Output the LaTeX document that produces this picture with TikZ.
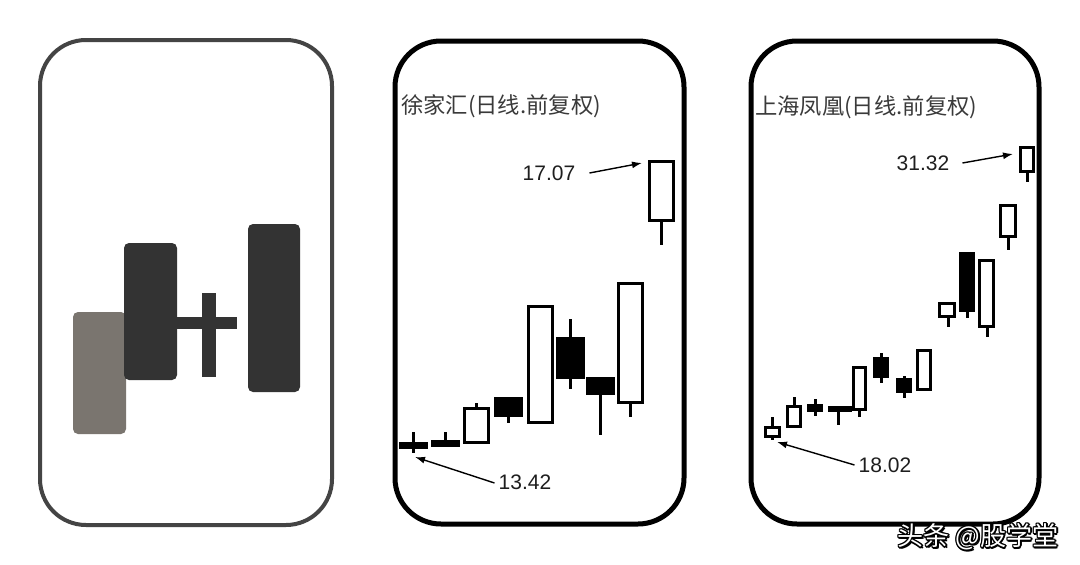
\documentclass[tikz,border=0pt]{standalone}
\usepackage{fontspec}
\setmainfont{Liberation Sans}
\newfontfamily\cjk{Noto Sans CJK SC}
\usetikzlibrary{arrows.meta}
\definecolor{panelgray}{HTML}{444444}
\definecolor{candlegray}{HTML}{7A756F}
\definecolor{candledark}{HTML}{333333}
\definecolor{titlegray}{HTML}{3A3A3A}
\definecolor{numblack}{HTML}{1E1E1E}
\newcommand\cndl[8]{%
  \draw[wick] (#5,#6) -- (#5,#7);
  \draw[cbody,fill=#8] ({#1+1.4},{#3+1.4}) rectangle ({#2-1.4},{#4-1.4});}
\begin{document}
\begin{tikzpicture}[x=1pt,y=-1pt,
  panel/.style={line width=5pt,rounded corners=46pt},
  lpanel/.style={line width=4pt,draw=panelgray,rounded corners=46pt},
  wick/.style={line width=3pt,black},
  cbody/.style={line width=2.8pt,draw=black},
  gblock/.style={rounded corners=5pt},
  ttl/.style={anchor=west,inner sep=0pt,text=titlegray,font=\cjk\fontsize{22.3}{26}\selectfont},
  num/.style={inner sep=0pt,text=numblack,font=\fontsize{21}{25}\selectfont},
  arr/.style={line width=1.4pt,-{Latex[length=10pt,width=7pt]}},
  wm/.style={inner sep=0pt,font=\cjk\fontsize{26}{30}\selectfont}]
\useasboundingbox (0,0) rectangle (1080,565);
\fill[white] (0,0) rectangle (1080,565);

% ---------- left panel ----------
\draw[lpanel] (40,40) rectangle (332,525);
\fill[candlegray,gblock] (73,312) rectangle (126,434);
\fill[candledark,gblock] (124,243) rectangle (177,380);
\fill[candledark] (176,317) rectangle (237,329);
\fill[candledark] (202,293) rectangle (216,377);
\fill[candledark,gblock] (248,224) rectangle (300,392);

% ---------- middle panel ----------
\draw[panel] (395,41) rectangle (684,524);
\node[ttl] (t1) at (401,106) {徐家汇(日线.前复权)};
\cndl{399}{428}{442}{449}{413.5}{432}{453}{black}
\cndl{431}{460}{440}{447}{445.5}{432}{447}{black}
\cndl{463}{490}{407}{444}{476.5}{403}{444}{white}
\cndl{494}{523}{397}{417}{508.5}{397}{423}{black}
\cndl{527}{554}{305}{424}{540.5}{305}{424}{white}
\cndl{556}{585}{337}{379}{570.5}{319}{389}{black}
\cndl{586}{615}{377}{395}{600.5}{377}{435}{black}
\cndl{617}{644}{282}{404}{630.5}{282}{417}{white}
\cndl{648}{675}{160}{222}{661.5}{160}{245}{white}
\node[num] (n1707) at (549,173) {17.07};
\coordinate (a1707) at (642,163);
\draw[arr] ([xshift=14pt]n1707.east) -- (a1707);
\node[num] (n1342) at (525,482) {13.42};
\coordinate (a1342) at (415,457);
\draw[arr] ([xshift=-4pt,yshift=-1pt]n1342.west) -- (a1342);

% ---------- right panel ----------
\draw[panel] (751,41) rectangle (1039,524);
\node[ttl] (t2) at (755,107) {上海凤凰(日线.前复权)};
\cndl{764}{781}{426}{438}{772.5}{417}{440}{white}
\cndl{786}{802}{405}{428}{794}{397}{428}{white}
\cndl{807}{823}{404}{412}{815}{399}{416}{black}
\cndl{828}{852}{406}{412}{838}{406}{425}{black}
\cndl{852}{867}{366}{411}{859.5}{366}{417}{white}
\cndl{873}{889}{357}{378}{881.5}{353}{383}{black}
\cndl{896}{912}{378}{393}{904}{376}{398}{black}
\cndl{916}{932}{349}{391}{924}{349}{391}{white}
\cndl{938}{956}{302}{318}{948}{302}{327}{white}
\cndl{959}{975}{252}{312}{967}{252}{318}{black}
\cndl{978}{995}{259}{328}{987}{259}{337}{white}
\cndl{999}{1017}{204}{238}{1008}{204}{250}{white}
\cndl{1019}{1035}{146}{173}{1027}{146}{182}{white}
\node[num] (n3132) at (923,163) {31.32};
\coordinate (a3132) at (1013,154);
\draw[arr] ([xshift=13pt]n3132.east) -- (a3132);
\node[num] (n1802) at (885,465) {18.02};
\coordinate (a1802) at (777,442);
\draw[arr] ([xshift=-4pt]n1802.west) -- (a1802);

% ---------- watermark: white letters with a dark outline ----------
\foreach \dx/\dy [count=\i] in {-1/-1,0/-1,1/-1,-1/0,1/0,-1/1,0/1,1/1,1.6/1.6,0/1.8,1.8/0}
  \node[wm,text=black] (wms\i) at (978+\dx,537+\dy) {头条 @股学堂};
\node[wm,text=white] (wmark) at (978,537) {头条 @股学堂};
\end{tikzpicture}
\end{document}
